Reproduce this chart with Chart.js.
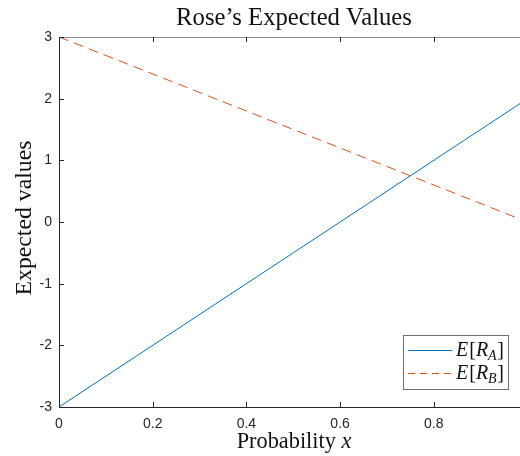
<!DOCTYPE html>
<html><head><meta charset="utf-8">
<script src="https://cdn.jsdelivr.net/npm/chart.js@4/dist/chart.umd.min.js"></script>
<style>html,body{margin:0;padding:0;background:#fff;overflow:hidden;width:520px;height:456px}canvas{display:block}</style>
</head><body><canvas id="c" width="520" height="456"></canvas>
<script>
const probability = [0, 0.25, 0.5, 0.75, 1];
const expectedRA = [-3, -1.75, -0.5, 0.75, 2];
const expectedRB = [3, 2.25, 1.5, 0.75, 0];
const xTicks = [0, 0.2, 0.4, 0.6, 0.8];
const yTicks = [-3, -2, -1, 0, 1, 2, 3];
const xMax = 0.984;
const titleText = 'Rose\u2019s Expected Values';
const yTitle = 'Expected values';

const AX = '#262626';
const SERIF = '"Liberation Serif", "DejaVu Serif", serif';

function fitFont(ctx, text, target, style) {
  ctx.font = style + ' 20px ' + SERIF;
  const w = ctx.measureText(text).width;
  return 20 * target / w;
}

const deco = {
  id: 'deco',
  afterDraw(chart) {
    const ctx = chart.ctx, a = chart.chartArea;
    const xs = chart.scales.x, ys = chart.scales.y;
    ctx.save();
    ctx.lineWidth = 1;
    ctx.strokeStyle = '#8a8a8a';
    ctx.beginPath(); ctx.moveTo(a.left, a.top + 0.5); ctx.lineTo(a.right, a.top + 0.5); ctx.stroke();
    ctx.strokeStyle = AX;
    ctx.beginPath(); ctx.moveTo(a.left + 0.5, a.top); ctx.lineTo(a.left + 0.5, a.bottom); ctx.stroke();
    ctx.beginPath(); ctx.moveTo(a.left, a.bottom + 0.5); ctx.lineTo(a.right, a.bottom + 0.5); ctx.stroke();
    xTicks.forEach(v => {
      const px = Math.round(xs.getPixelForValue(v)) + 0.5;
      ctx.beginPath(); ctx.moveTo(px, a.bottom); ctx.lineTo(px, a.bottom - 5); ctx.stroke();
      ctx.beginPath(); ctx.moveTo(px, a.top); ctx.lineTo(px, a.top + 5); ctx.stroke();
    });
    yTicks.forEach(v => {
      const py = Math.round(ys.getPixelForValue(v)) + 0.5;
      ctx.beginPath(); ctx.moveTo(a.left, py); ctx.lineTo(a.left + 5, py); ctx.stroke();
    });
    // title
    ctx.fillStyle = '#111';
    ctx.textAlign = 'center'; ctx.textBaseline = 'alphabetic';
    let fs = fitFont(ctx, titleText, 236, '');
    ctx.font = fs + 'px ' + SERIF;
    ctx.fillText(titleText, 294, 24.5);
    // x title
    const p1 = 'Probability ', p2 = 'x';
    const fx = fitFont(ctx, p1 + p2, 116, '');
    ctx.font = fx + 'px ' + SERIF;
    const w1 = ctx.measureText(p1).width;
    ctx.font = 'italic ' + fx + 'px ' + SERIF;
    const w2 = ctx.measureText(p2).width;
    let sx = 294 - (w1 + w2) / 2;
    ctx.textAlign = 'left';
    ctx.font = fx + 'px ' + SERIF; ctx.fillText(p1, sx, 448);
    ctx.font = 'italic ' + fx + 'px ' + SERIF; ctx.fillText(p2, sx + w1, 448);
    // y title
    ctx.save();
    ctx.translate(31, 218);
    ctx.rotate(-Math.PI / 2);
    ctx.textAlign = 'center';
    fs = fitFont(ctx, yTitle, 155, '');
    ctx.font = fs + 'px ' + SERIF;
    ctx.fillText(yTitle, 0, 0);
    ctx.restore();
    // legend
    ctx.fillStyle = '#fff';
    ctx.fillRect(403, 335, 105, 54);
    ctx.strokeStyle = '#6e6e6e';
    ctx.lineWidth = 1;
    ctx.strokeRect(403.5, 335.5, 105, 54);
    const entries = [
      {ds: chart.data.datasets[0], y: 350, base: 355.5, sub: 'A', dash: []},
      {ds: chart.data.datasets[1], y: 373, base: 378.5, sub: 'B', dash: [7, 5]}
    ];
    entries.forEach(e => {
      ctx.strokeStyle = e.ds.borderColor;
      ctx.lineWidth = 1;
      ctx.setLineDash(e.dash);
      ctx.beginPath(); ctx.moveTo(408, e.y + 0.5); ctx.lineTo(452, e.y + 0.5); ctx.stroke();
      ctx.setLineDash([]);
      ctx.fillStyle = '#111';
      let x = 456;
      const parts = [
        ['italic 20px ' + SERIF, 'E', 0, 1],
        ['20px ' + SERIF, '[', 0, 0],
        ['italic 20px ' + SERIF, 'R', 0, 0],
        ['italic 14px ' + SERIF, e.sub, 4, 0.5],
        ['20px ' + SERIF, ']', 0, 0]
      ];
      parts.forEach(p => {
        ctx.font = p[0];
        ctx.fillText(p[1], x, e.base + p[2]);
        x += ctx.measureText(p[1]).width + p[3];
      });
    });
    ctx.restore();
  }
};

new Chart(document.getElementById('c'), {
  type: 'scatter',
  data: {
    datasets: [
      {label: 'E[R_A]', data: probability.map((x, i) => ({x, y: expectedRA[i]})),
       showLine: true, borderColor: '#0072BD', borderWidth: 1, pointRadius: 0, fill: false},
      {label: 'E[R_B]', data: probability.map((x, i) => ({x, y: expectedRB[i]})),
       showLine: true, borderColor: '#D95319', borderWidth: 1, borderDash: [10, 6], pointRadius: 0, fill: false}
    ]
  },
  options: {
    responsive: false,
    animation: false,
    layout: {padding: {top: 37, left: 0, right: 0, bottom: 0}},
    plugins: {legend: {display: false}, title: {display: false}, tooltip: {enabled: false}},
    scales: {
      x: {
        type: 'linear', min: 0, max: xMax,
        afterBuildTicks: s => { s.ticks = xTicks.map(v => ({value: v})); },
        afterFit: s => { s.height = 49; },
        grid: {display: false, drawTicks: false},
        border: {display: false},
        ticks: {padding: 9, color: AX, font: {family: '"Liberation Sans", Arial, sans-serif', size: 14},
                maxRotation: 0, callback: v => String(v)}
      },
      y: {
        type: 'linear', min: -3, max: 3,
        afterBuildTicks: s => { s.ticks = yTicks.map(v => ({value: v})); },
        afterFit: s => { s.width = 59; },
        grid: {display: false, drawTicks: false},
        border: {display: false},
        ticks: {padding: 7, color: AX, font: {family: '"Liberation Sans", Arial, sans-serif', size: 14},
                callback: v => String(v)}
      }
    }
  },
  plugins: [deco]
});
</script>
</body></html>
